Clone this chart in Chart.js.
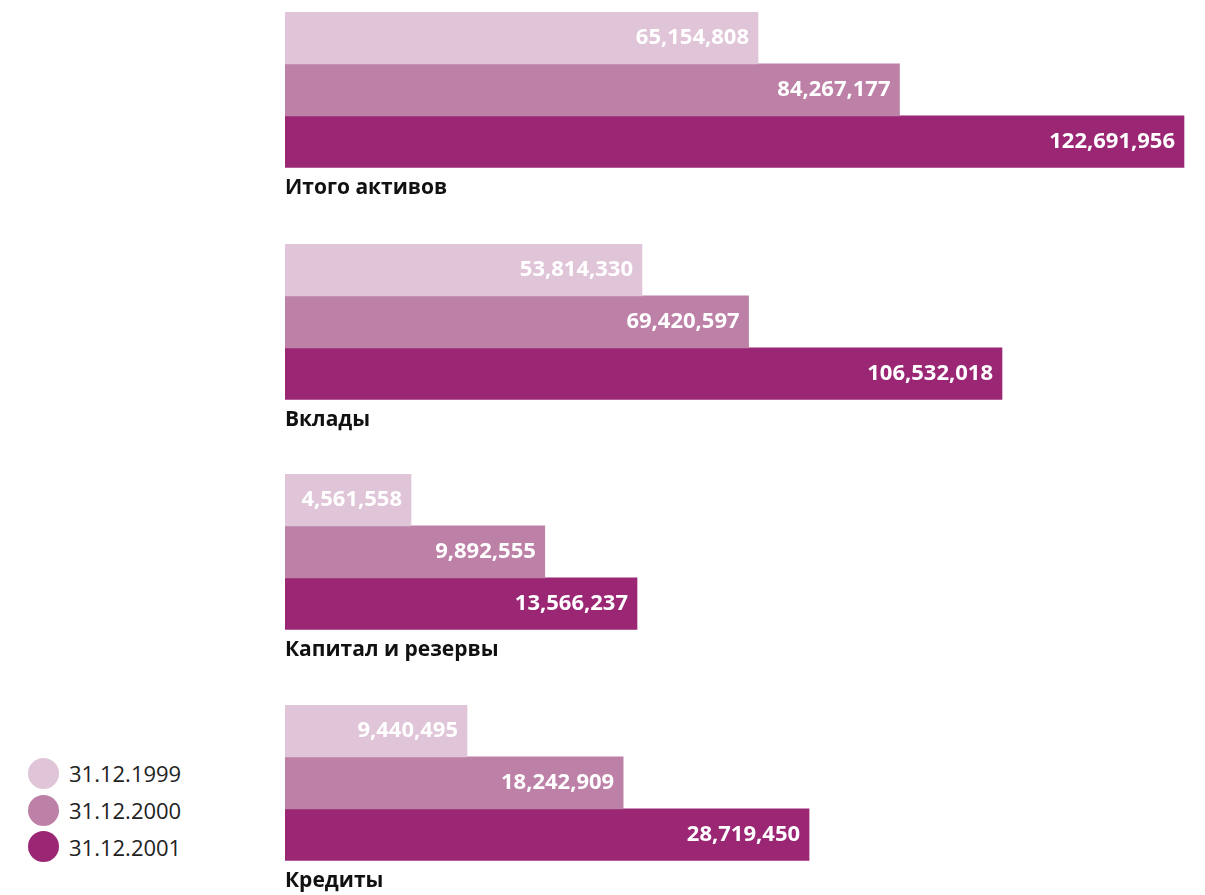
<!DOCTYPE html>
<html>
<head>
<meta charset="utf-8">
<script src="https://cdn.jsdelivr.net/npm/chart.js@4"></script>
<style>
  html, body { margin: 0; padding: 0; background: #fff; width: 1205px; height: 895px; overflow: hidden; }
  .group { position: absolute; left: 0; }
  #legend { position: absolute; left: 28px; top: 755px; font-family: 'Open Sans', sans-serif; font-size: 22px; color: #222; }
  .item { height: 36.7px; display: flex; align-items: center; }
  .dot { width: 31px; height: 31px; border-radius: 50%; margin-right: 10px; }
</style>
</head>
<body>
<div id="legend"></div>
<script>
// data
const categories = ['Итого активов', 'Вклады', 'Капитал и резервы', 'Кредиты'];
const seriesLabels = ['31.12.1999', '31.12.2000', '31.12.2001'];
const values1999 = [65154808, 53814330, 4561558, 9440495];
const values2000 = [84267177, 69420597, 9892555, 18242909];
const values2001 = [122691956, 106532018, 13566237, 28719450];
// every group in the original has its own scale
const groupAxisMin = [1270000, 1540000, -458000, -817000];
const groupAxisMax = [122830000, 133330000, 35400000, 49910000];

const colors = ['#e0c4d8', '#bd80a7', '#9a2674'];
const series = [values1999, values2000, values2001];
const groupTops = [12, 244, 474, 705];

// white value labels at the end of each bar
const valueLabels = {
  id: 'valueLabels',
  afterDatasetsDraw(chart) {
    const ctx = chart.ctx;
    ctx.save();
    ctx.font = 'bold 22px "Open Sans"';
    ctx.fillStyle = '#fff';
    ctx.textAlign = 'right';
    ctx.textBaseline = 'middle';
    chart.data.datasets.forEach((ds, d) => {
      chart.getDatasetMeta(d).data.forEach((bar, i) => {
        ctx.fillText(ds.data[i].toLocaleString('en-US'), bar.x - 9, bar.y);
      });
    });
    ctx.restore();
  }
};

categories.forEach((cat, g) => {
  const wrap = document.createElement('div');
  wrap.className = 'group';
  wrap.style.top = groupTops[g] + 'px';
  const canvas = document.createElement('canvas');
  canvas.width = 1205;
  canvas.height = 189;
  wrap.appendChild(canvas);
  document.body.appendChild(wrap);

  new Chart(canvas.getContext('2d'), {
    type: 'bar',
    data: {
      labels: [cat],
      datasets: series.map((vals, s) => ({
        label: seriesLabels[s],
        data: [vals[g]],
        backgroundColor: colors[s],
        borderWidth: 0,
        categoryPercentage: 1,
        barPercentage: 1,
        base: groupAxisMin[g]
      }))
    },
    options: {
      indexAxis: 'y',
      responsive: false,
      animation: false,
      layout: { padding: { left: 285, right: 20, top: 0, bottom: 0 } },
      plugins: { legend: { display: false }, tooltip: { enabled: false } },
      scales: {
        y: { display: false },
        x: {
          min: groupAxisMin[g],
          max: groupAxisMax[g],
          grid: { display: false, drawTicks: false },
          border: { display: false },
          ticks: { display: false },
          title: {
            display: true,
            text: cat,
            align: 'start',
            color: '#111',
            font: { family: 'Open Sans', size: 21, weight: 'bold' },
            padding: { top: 8, bottom: 0 }
          }
        }
      }
    },
    plugins: [valueLabels]
  });
});

// legend
const legend = document.getElementById('legend');
seriesLabels.forEach((lab, s) => {
  const row = document.createElement('div');
  row.className = 'item';
  const dot = document.createElement('span');
  dot.className = 'dot';
  dot.style.background = colors[s];
  const txt = document.createElement('span');
  txt.textContent = lab;
  row.appendChild(dot);
  row.appendChild(txt);
  legend.appendChild(row);
});
</script>
</body>
</html>
